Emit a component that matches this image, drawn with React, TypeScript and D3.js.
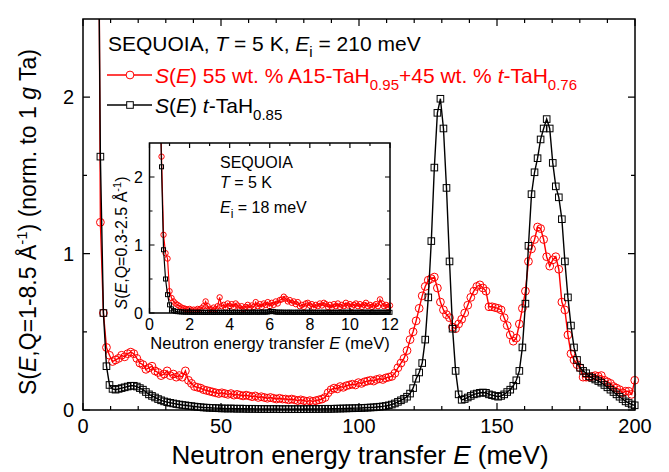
import React from 'react';
import * as d3 from 'd3';

// main panel: Ei = 210 meV, energy bins start at 5.2 meV, 1.1 meV wide
const E_START = 5.2;
const E_STEP = 1.1;

const blackMain = [
  4.0, 1.62, 0.62, 0.28, 0.16, 0.135, 0.13, 0.135, 0.14, 0.145,
  0.15, 0.155, 0.155, 0.15, 0.14, 0.13, 0.115, 0.10, 0.09, 0.08,
  0.07, 0.062, 0.055, 0.05, 0.046, 0.042, 0.038, 0.035, 0.032, 0.03,
  0.027, 0.025, 0.022, 0.02, 0.018, 0.016, 0.015, 0.014, 0.013, 0.012,
  0.011, 0.01, 0.01, 0.009, 0.01, 0.009, 0.008, 0.009, 0.008, 0.008,
  0.007, 0.008, 0.007, 0.007, 0.006, 0.007, 0.006, 0.006, 0.007, 0.006,
  0.006, 0.005, 0.006, 0.006, 0.005, 0.006, 0.006, 0.005, 0.006, 0.006,
  0.006, 0.007, 0.006, 0.007, 0.007, 0.008, 0.007, 0.008, 0.008, 0.009,
  0.009, 0.01, 0.01, 0.011, 0.011, 0.012, 0.012, 0.013, 0.014, 0.015,
  0.016, 0.017, 0.019, 0.021, 0.023, 0.026, 0.03, 0.035, 0.042, 0.052,
  0.062, 0.072, 0.085, 0.105, 0.14, 0.2, 0.24, 0.30, 0.45, 0.72,
  1.08, 1.55, 1.90, 1.99, 1.80, 1.42, 0.95, 0.52, 0.25, 0.10,
  0.065, 0.07, 0.08, 0.09, 0.10, 0.105, 0.11, 0.112, 0.11, 0.10,
  0.095, 0.09, 0.085, 0.09, 0.10, 0.115, 0.13, 0.155, 0.19, 0.25,
  0.40, 0.68, 1.05, 1.38, 1.52, 1.61, 1.73, 1.80, 1.86, 1.80,
  1.58, 1.43, 1.36, 1.22, 0.95, 0.72, 0.54, 0.40, 0.32, 0.27,
  0.25, 0.235, 0.215, 0.205, 0.195, 0.185, 0.175, 0.16, 0.145, 0.13,
  0.115, 0.10, 0.085, 0.07, 0.055, 0.045, 0.035, 0.03,
];

const redMain = [
  5.0, 1.2, 0.62, 0.40, 0.35, 0.31, 0.32, 0.33, 0.35, 0.34,
  0.36, 0.37, 0.36, 0.33, 0.30, 0.29, 0.26, 0.27, 0.28, 0.25,
  0.24, 0.22, 0.23, 0.25, 0.22, 0.23, 0.21, 0.22, 0.21, 0.25,
  0.19, 0.17, 0.15, 0.145, 0.14, 0.13, 0.125, 0.12, 0.115, 0.11,
  0.105, 0.11, 0.105, 0.10, 0.105, 0.095, 0.10, 0.095, 0.09, 0.095,
  0.09, 0.085, 0.09, 0.08, 0.085, 0.08, 0.075, 0.08, 0.075, 0.07,
  0.075, 0.07, 0.07, 0.065, 0.07, 0.065, 0.06, 0.065, 0.06, 0.055,
  0.06, 0.055, 0.06, 0.065, 0.07, 0.08, 0.11, 0.13, 0.14, 0.135,
  0.15, 0.145, 0.155, 0.16, 0.165, 0.16, 0.175, 0.17, 0.18, 0.185,
  0.19, 0.185, 0.195, 0.20, 0.195, 0.205, 0.21, 0.215, 0.235, 0.27,
  0.30, 0.33, 0.38, 0.45, 0.50, 0.57, 0.65, 0.73, 0.79, 0.83,
  0.84, 0.85, 0.78, 0.69, 0.64, 0.61, 0.59, 0.53, 0.52, 0.55,
  0.58, 0.62, 0.67, 0.72, 0.76, 0.79, 0.80, 0.78, 0.76, 0.66,
  0.66, 0.655, 0.65, 0.64, 0.59, 0.54, 0.48, 0.44, 0.46, 0.55,
  0.65, 0.76, 0.95, 1.03, 1.09, 1.17, 1.16, 1.09, 0.98, 0.92,
  0.96, 0.98, 0.90, 0.69, 0.64, 0.48, 0.36, 0.32, 0.29, 0.27,
  0.21, 0.21, 0.21, 0.215, 0.22, 0.215, 0.22, 0.19, 0.18, 0.17,
  0.15, 0.14, 0.13, 0.11, 0.12, 0.12, 0.10, 0.19,
];

// inset: Ei = 18 meV, bins from 0.5 meV, 0.1 meV wide
const INSET_E_START = 0.5;
const INSET_E_STEP = 0.1;

const blackInset = [
  3.5, 2.15, 0.93, 0.5, 0.27, 0.12, 0.06, 0.035, 0.025, 0.02,
  0.018, 0.015, 0.014, 0.012, 0.013, 0.011, 0.012, 0.01, 0.011, 0.01,
  0.012, 0.01, 0.011, 0.009, 0.01, 0.011, 0.01, 0.009, 0.01, 0.011,
  0.01, 0.012, 0.01, 0.011, 0.01, 0.009, 0.01, 0.011, 0.012, 0.01,
  0.011, 0.01, 0.012, 0.011, 0.01, 0.012, 0.011, 0.013, 0.012, 0.011,
  0.012, 0.014, 0.012, 0.013, 0.015, 0.02, 0.025, 0.02, 0.014, 0.012,
  0.013, 0.011, 0.012, 0.01, 0.011, 0.012, 0.01, 0.011, 0.01, 0.012,
  0.011, 0.01, 0.011, 0.01, 0.012, 0.01, 0.011, 0.01, 0.009, 0.01,
  0.011, 0.01, 0.012, 0.01, 0.011, 0.01, 0.009, 0.01, 0.011, 0.01,
  0.01, 0.011, 0.012, 0.01, 0.011, 0.01, 0.009, 0.011, 0.01, 0.012,
  0.01, 0.011, 0.01, 0.012, 0.011, 0.01, 0.011, 0.012, 0.01, 0.011,
  0.012, 0.011, 0.01, 0.012, 0.011, 0.01,
];

const redInset = [
  3.5, 2.3, 1.15, 0.88, 0.8, 0.32, 0.22, 0.17, 0.14, 0.12,
  0.1, 0.08, 0.07, 0.06, 0.05, 0.06, 0.04, 0.05, 0.04, 0.06,
  0.05, 0.07, 0.1, 0.17, 0.1, 0.06, 0.05, 0.08, 0.06, 0.1,
  0.23, 0.1, 0.12, 0.08, 0.14, 0.1, 0.13, 0.09, 0.14, 0.11,
  0.07, 0.1, 0.06, 0.09, 0.12, 0.08, 0.11, 0.09, 0.16, 0.1,
  0.13, 0.09, 0.14, 0.12, 0.16, 0.1, 0.15, 0.12, 0.17, 0.14,
  0.19, 0.2, 0.24, 0.21, 0.17, 0.19, 0.15, 0.17, 0.13, 0.16,
  0.1, 0.12, 0.09, 0.14, 0.15, 0.11, 0.13, 0.08, 0.12, 0.1,
  0.14, 0.11, 0.15, 0.13, 0.09, 0.12, 0.08, 0.13, 0.1, 0.14,
  0.09, 0.12, 0.1, 0.15, 0.11, 0.13, 0.09, 0.12, 0.14, 0.1,
  0.13, 0.09, 0.12, 0.15, 0.1, 0.12, 0.09, 0.11, 0.13, 0.1,
  0.2, 0.14, 0.1, 0.12, 0.09, 0.11,
];

const mainXTicks = [0, 50, 100, 150, 200];
const mainYTicks = [0, 1, 2];
const insetXTicks = [0, 2, 4, 6, 8, 10, 12];
const insetYTicks = [0, 1, 2];

const FONT = "'Liberation Sans', Arial, Helvetica, sans-serif";
const RED = '#ff0000';

type Pt = [number, number];

const Frame = ({ x, y, xMajor, xMinor, yMajor, yMinor, major, minor }: any) => {
  const [x0, x1] = x.range();
  const [y0, y1] = y.range();
  const segs: string[] = [];
  xMajor.forEach((v: number) => {
    segs.push(`M${x(v)},${y0}v${-major}`, `M${x(v)},${y1}v${major}`);
  });
  xMinor.forEach((v: number) => {
    segs.push(`M${x(v)},${y0}v${-minor}`, `M${x(v)},${y1}v${minor}`);
  });
  yMajor.forEach((v: number) => {
    segs.push(`M${x0},${y(v)}h${major}`, `M${x1},${y(v)}h${-major}`);
  });
  yMinor.forEach((v: number) => {
    segs.push(`M${x0},${y(v)}h${minor}`, `M${x1},${y(v)}h${-minor}`);
  });
  return (
    <g>
      <path d={segs.join('')} stroke="#000" strokeWidth={1.2} fill="none" />
      <rect x={x0} y={y1} width={x1 - x0} height={y0 - y1} fill="none" stroke="#000" strokeWidth={1.5} />
    </g>
  );
};

const Series = ({ pts, x, y, color, marker, size, clipId, lw }: any) => {
  const line = d3.line<Pt>().x(d => x(d[0])).y(d => y(d[1]));
  const yMax = y.domain()[1];
  const vis = pts.filter((d: Pt) => d[1] <= yMax);
  return (
    <g>
      <path d={line(pts) || ''} fill="none" stroke={color} strokeWidth={lw} clipPath={`url(#${clipId})`} />
      {vis.map((d: Pt, i: number) =>
        marker === 'circle' ? (
          <circle key={i} cx={x(d[0])} cy={y(d[1])} r={size} fill="none" stroke={color} strokeWidth={1} />
        ) : (
          <rect key={i} x={x(d[0]) - size} y={y(d[1]) - size} width={size * 2} height={size * 2} fill="none" stroke={color} strokeWidth={1} />
        )
      )}
    </g>
  );
};

export default function App() {
  const W = 669;
  const H = 472;

  const x = d3.scaleLinear().domain([0, 200]).range([83, 635]);
  const y = d3.scaleLinear().domain([0, 2.5]).range([410, 19]);

  const xi = d3.scaleLinear().domain([0, 12]).range([149.5, 390]);
  const yi = d3.scaleLinear().domain([0, 2.5]).range([313, 143]);

  const blackPts: Pt[] = blackMain.map((v, i) => [E_START + E_STEP * i, v]);
  const redPts: Pt[] = redMain.map((v, i) => [E_START + E_STEP * i, v]);
  const blackInsetPts: Pt[] = blackInset.map((v, i) => [INSET_E_START + INSET_E_STEP * i, v]);
  const redInsetPts: Pt[] = redInset.map((v, i) => [INSET_E_START + INSET_E_STEP * i, v]);

  return (
    <svg width={W} height={H} style={{ position: 'absolute', left: 0, top: 0, background: '#fff' }} fontFamily={FONT}>
      <defs>
        <clipPath id="clip-main">
          <rect x={83} y={19} width={552} height={391} />
        </clipPath>
        <clipPath id="clip-inset">
          <rect x={149.5} y={143} width={240.5} height={170} />
        </clipPath>
      </defs>

      {/* main panel */}
      <Series pts={redPts} x={x} y={y} color={RED} marker="circle" size={3.9} clipId="clip-main" lw={1.4} />
      <Series pts={blackPts} x={x} y={y} color="#000" marker="square" size={3.3} clipId="clip-main" lw={1.4} />
      <Frame x={x} y={y} xMajor={mainXTicks} xMinor={d3.range(10, 200, 10).filter(v => v % 50 !== 0)}
        yMajor={mainYTicks} yMinor={[0.5, 1.5]} major={7} minor={4} />

      {mainXTicks.map(v => (
        <text key={v} x={x(v)} y={433} fontSize={20} textAnchor="middle">{v}</text>
      ))}
      {mainYTicks.map(v => (
        <text key={v} x={74} y={y(v) + 7} fontSize={20} textAnchor="end">{v}</text>
      ))}
      <text x={360} y={464} fontSize={26} textAnchor="middle">
        Neutron energy transfer <tspan fontStyle="italic">E</tspan> (meV)
      </text>
      <text transform="translate(36,222) rotate(-90)" fontSize={23} textAnchor="middle">
        S(<tspan fontStyle="italic">E</tspan>,Q=1-8.5 Å<tspan dy={-9} fontSize={15}>-1</tspan>
        <tspan dy={9}>) (norm. to 1 </tspan><tspan fontStyle="italic">g</tspan> Ta)
      </text>

      {/* legend */}
      <text x={108} y={51} fontSize={21}>
        SEQUOIA, <tspan fontStyle="italic">T</tspan> = 5 K, <tspan fontStyle="italic">E</tspan>
        <tspan dy={6} fontSize={15}>i</tspan><tspan dy={-6}> = 210 meV</tspan>
      </text>
      <line x1={107} x2={152} y1={75} y2={75} stroke={RED} strokeWidth={1.4} />
      <circle cx={130} cy={75} r={3.9} fill="#fff" stroke={RED} strokeWidth={1} />
      <text x={155} y={83} fontSize={21} fill={RED}>
        <tspan fontStyle="italic">S</tspan>(<tspan fontStyle="italic">E</tspan>) 55 wt. % A15-TaH
        <tspan dy={7} fontSize={15}>0.95</tspan><tspan dy={-7}>+45 wt. % </tspan>
        <tspan fontStyle="italic">t</tspan>-TaH<tspan dy={7} fontSize={15}>0.76</tspan>
      </text>
      <line x1={107} x2={152} y1={105} y2={105} stroke="#000" strokeWidth={1.4} />
      <rect x={126.7} y={101.7} width={6.6} height={6.6} fill="#fff" stroke="#000" strokeWidth={1} />
      <text x={155} y={113} fontSize={21}>
        <tspan fontStyle="italic">S</tspan>(<tspan fontStyle="italic">E</tspan>) <tspan fontStyle="italic">t</tspan>-TaH
        <tspan dy={7} fontSize={15}>0.85</tspan>
      </text>

      {/* inset */}
      <rect x={149.5} y={143} width={240.5} height={170} fill="#fff" />
      <Series pts={redInsetPts} x={xi} y={yi} color={RED} marker="circle" size={2.7} clipId="clip-inset" lw={1.2} />
      <Series pts={blackInsetPts} x={xi} y={yi} color="#000" marker="square" size={2} clipId="clip-inset" lw={1.2} />
      <Frame x={xi} y={yi} xMajor={insetXTicks} xMinor={d3.range(1, 12, 2)}
        yMajor={insetYTicks} yMinor={[0.5, 1.5]} major={5} minor={3} />
      {insetXTicks.map(v => (
        <text key={v} x={xi(v)} y={330} fontSize={16} textAnchor="middle">{v}</text>
      ))}
      {insetYTicks.map(v => (
        <text key={v} x={143} y={yi(v) + 6} fontSize={16} textAnchor="end">{v}</text>
      ))}
      <text x={270} y={349} fontSize={16.5} textAnchor="middle">
        Neutron energy transfer <tspan fontStyle="italic">E</tspan> (meV)
      </text>
      <text transform="translate(127,243) rotate(-90)" fontSize={16} textAnchor="middle">
        <tspan fontStyle="italic">S</tspan>(<tspan fontStyle="italic">E</tspan>,Q=0.3-2.5 Å<tspan dy={-6} fontSize={11}>-1</tspan>
        <tspan dy={6}>)</tspan>
      </text>
      <text x={220} y={168} fontSize={16}>SEQUOIA</text>
      <text x={220} y={188} fontSize={16}><tspan fontStyle="italic">T</tspan> = 5 K</text>
      <text x={220} y={213} fontSize={16}>
        <tspan fontStyle="italic">E</tspan><tspan dy={5} fontSize={12}>i</tspan><tspan dy={-5}> = 18 meV</tspan>
      </text>
    </svg>
  );
}
